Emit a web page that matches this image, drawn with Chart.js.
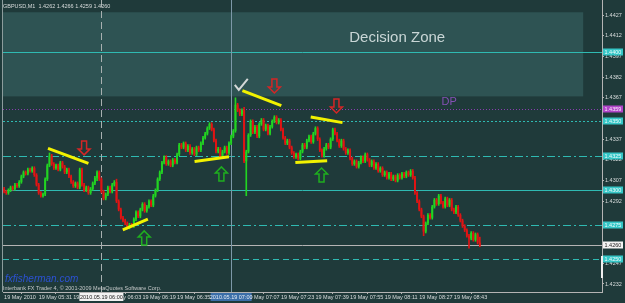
<!DOCTYPE html>
<html>
<head>
<meta charset="utf-8">
<script src="https://cdn.jsdelivr.net/npm/chart.js@4.4.1/dist/chart.umd.min.js"></script>
<style>
  html, body { margin: 0; padding: 0; background: #1f3a3a; }
  #wrap { width: 625px; height: 303px; position: relative; }
</style>
</head>
<body>
<div id="wrap"><canvas id="chartFx"></canvas></div>
<script>
// GBPUSD M1, 19 May 2010, one bar per minute from 05:15
const opens = [
  1.4301,1.4299,1.4298,1.4300,1.4302,1.4301,1.4304,1.4303,1.4306,1.4310,
  1.4313,1.4312,1.4315,1.4314,1.4316,1.4311,1.4304,1.4298,1.4296,1.4297,
  1.4308,1.4318,1.4325,1.4319,1.4316,1.4318,1.4315,1.4320,1.4317,1.4313,
  1.4315,1.4310,1.4306,1.4303,1.4305,1.4302,1.4315,1.4304,1.4300,1.4302,
  1.4298,1.4301,1.4305,1.4309,1.4313,1.4308,1.4299,1.4294,1.4297,1.4302,
  1.4299,1.4304,1.4306,1.4292,1.4286,1.4280,1.4278,1.4276,1.4273,1.4275,
  1.4274,1.4279,1.4284,1.4281,1.4286,1.4290,1.4285,1.4288,1.4292,1.4289,
  1.4296,1.4300,1.4308,1.4313,1.4320,1.4324,1.4319,1.4321,1.4318,1.4322,
  1.4320,1.4326,1.4333,1.4331,1.4334,1.4329,1.4332,1.4327,1.4330,1.4326,
  1.4331,1.4329,1.4334,1.4338,1.4341,1.4345,1.4348,1.4344,1.4336,1.4328,
  1.4330,1.4324,1.4328,1.4331,1.4327,1.4334,1.4339,1.4343,1.4362,1.4358,
  1.4355,1.4358,1.4321,1.4328,1.4340,1.4350,1.4342,1.4346,1.4339,1.4348,
  1.4351,1.4344,1.4347,1.4341,1.4346,1.4350,1.4353,1.4349,1.4351,1.4344,
  1.4338,1.4334,1.4336,1.4331,1.4327,1.4324,1.4326,1.4323,1.4328,1.4333,
  1.4331,1.4336,1.4339,1.4335,1.4341,1.4345,1.4337,1.4329,1.4325,1.4330,
  1.4333,1.4331,1.4337,1.4344,1.4341,1.4336,1.4332,1.4336,1.4330,1.4327,
  1.4329,1.4323,1.4319,1.4321,1.4317,1.4320,1.4324,1.4321,1.4326,1.4322,
  1.4318,1.4321,1.4316,1.4319,1.4314,1.4316,1.4311,1.4313,1.4309,1.4312,
  1.4308,1.4310,1.4307,1.4311,1.4309,1.4312,1.4310,1.4313,1.4311,1.4314,
  1.4309,1.4298,1.4292,1.4286,1.4281,1.4270,1.4276,1.4282,1.4280,1.4288,
  1.4293,1.4290,1.4296,1.4291,1.4288,1.4294,1.4289,1.4293,1.4286,1.4284,
  1.4288,1.4282,1.4278,1.4274,1.4271,1.4267,1.4265,1.4269,1.4264,1.4268,
  1.4262
];
const highs = [
  1.4302,1.4300,1.4301,1.4303,1.4303,1.4305,1.4305,1.4307,1.4311,1.4314,
  1.4314,1.4316,1.4316,1.4317,1.4317,1.4312,1.4305,1.4299,1.4298,1.4309,
  1.4319,1.4327,1.4326,1.4320,1.4319,1.4319,1.4321,1.4321,1.4318,1.4316,
  1.4316,1.4311,1.4307,1.4306,1.4306,1.4316,1.4316,1.4305,1.4303,1.4303,
  1.4302,1.4306,1.4310,1.4314,1.4314,1.4309,1.4300,1.4298,1.4303,1.4303,
  1.4305,1.4307,1.4308,1.4293,1.4287,1.4281,1.4279,1.4277,1.4276,1.4276,
  1.4280,1.4285,1.4285,1.4287,1.4291,1.4291,1.4289,1.4293,1.4293,1.4297,
  1.4301,1.4309,1.4314,1.4321,1.4325,1.4325,1.4322,1.4322,1.4323,1.4323,
  1.4327,1.4334,1.4334,1.4335,1.4335,1.4333,1.4333,1.4331,1.4331,1.4332,
  1.4332,1.4335,1.4339,1.4342,1.4346,1.4349,1.4349,1.4345,1.4337,1.4331,
  1.4331,1.4329,1.4332,1.4332,1.4335,1.4340,1.4344,1.4367,1.4363,1.4359,
  1.4359,1.4360,1.4329,1.4341,1.4351,1.4351,1.4347,1.4347,1.4349,1.4352,
  1.4352,1.4348,1.4348,1.4347,1.4351,1.4354,1.4354,1.4352,1.4352,1.4345,
  1.4339,1.4337,1.4337,1.4332,1.4328,1.4327,1.4327,1.4329,1.4334,1.4334,
  1.4337,1.4340,1.4340,1.4342,1.4346,1.4346,1.4338,1.4330,1.4331,1.4334,
  1.4334,1.4338,1.4345,1.4345,1.4342,1.4337,1.4337,1.4337,1.4331,1.4330,
  1.4330,1.4324,1.4322,1.4322,1.4321,1.4325,1.4325,1.4327,1.4327,1.4323,
  1.4322,1.4322,1.4320,1.4320,1.4317,1.4317,1.4314,1.4314,1.4313,1.4313,
  1.4311,1.4311,1.4312,1.4312,1.4313,1.4313,1.4314,1.4314,1.4315,1.4315,
  1.4310,1.4299,1.4293,1.4287,1.4282,1.4277,1.4283,1.4283,1.4289,1.4294,
  1.4294,1.4297,1.4297,1.4292,1.4295,1.4295,1.4294,1.4294,1.4287,1.4289,
  1.4289,1.4283,1.4279,1.4275,1.4272,1.4268,1.4270,1.4270,1.4269,1.4269,
  1.4266
];
const lows = [
  1.4298,1.4297,1.4297,1.4299,1.4300,1.4300,1.4302,1.4302,1.4305,1.4309,
  1.4311,1.4311,1.4313,1.4313,1.4310,1.4303,1.4297,1.4295,1.4295,1.4296,
  1.4307,1.4317,1.4318,1.4315,1.4315,1.4314,1.4314,1.4316,1.4312,1.4312,
  1.4309,1.4305,1.4302,1.4302,1.4301,1.4301,1.4303,1.4299,1.4299,1.4297,
  1.4297,1.4300,1.4304,1.4307,1.4307,1.4298,1.4293,1.4293,1.4296,1.4298,
  1.4298,1.4303,1.4291,1.4285,1.4279,1.4277,1.4275,1.4272,1.4272,1.4273,
  1.4273,1.4278,1.4280,1.4280,1.4285,1.4284,1.4284,1.4287,1.4288,1.4288,
  1.4295,1.4299,1.4307,1.4312,1.4319,1.4318,1.4318,1.4317,1.4317,1.4319,
  1.4319,1.4325,1.4330,1.4330,1.4328,1.4328,1.4326,1.4326,1.4325,1.4325,
  1.4328,1.4328,1.4333,1.4337,1.4340,1.4344,1.4343,1.4335,1.4327,1.4327,
  1.4323,1.4323,1.4327,1.4326,1.4326,1.4333,1.4338,1.4342,1.4357,1.4354,
  1.4354,1.4320,1.4296,1.4327,1.4339,1.4341,1.4341,1.4338,1.4338,1.4347,
  1.4343,1.4343,1.4340,1.4340,1.4345,1.4349,1.4348,1.4348,1.4343,1.4337,
  1.4333,1.4333,1.4330,1.4326,1.4323,1.4323,1.4322,1.4322,1.4327,1.4330,
  1.4330,1.4335,1.4334,1.4334,1.4340,1.4336,1.4328,1.4324,1.4324,1.4329,
  1.4330,1.4330,1.4336,1.4340,1.4335,1.4331,1.4331,1.4329,1.4326,1.4326,
  1.4322,1.4318,1.4318,1.4316,1.4316,1.4319,1.4320,1.4320,1.4321,1.4317,
  1.4317,1.4315,1.4315,1.4313,1.4313,1.4310,1.4310,1.4308,1.4308,1.4307,
  1.4307,1.4306,1.4306,1.4308,1.4308,1.4309,1.4309,1.4310,1.4310,1.4308,
  1.4297,1.4291,1.4285,1.4280,1.4267,1.4269,1.4275,1.4279,1.4279,1.4287,
  1.4289,1.4289,1.4290,1.4287,1.4287,1.4288,1.4288,1.4285,1.4283,1.4283,
  1.4281,1.4277,1.4273,1.4270,1.4266,1.4258,1.4264,1.4263,1.4263,1.4261,
  1.4259
];
const closes = [
  1.4299,1.4298,1.4300,1.4302,1.4301,1.4304,1.4303,1.4306,1.4310,1.4313,
  1.4312,1.4315,1.4314,1.4316,1.4311,1.4304,1.4298,1.4296,1.4297,1.4308,
  1.4318,1.4325,1.4319,1.4316,1.4318,1.4315,1.4320,1.4317,1.4313,1.4315,
  1.4310,1.4306,1.4303,1.4305,1.4302,1.4315,1.4304,1.4300,1.4302,1.4298,
  1.4301,1.4305,1.4309,1.4313,1.4308,1.4299,1.4294,1.4297,1.4302,1.4299,
  1.4304,1.4306,1.4292,1.4286,1.4280,1.4278,1.4276,1.4273,1.4275,1.4274,
  1.4279,1.4284,1.4281,1.4286,1.4290,1.4285,1.4288,1.4292,1.4289,1.4296,
  1.4300,1.4308,1.4313,1.4320,1.4324,1.4319,1.4321,1.4318,1.4322,1.4320,
  1.4326,1.4333,1.4331,1.4334,1.4329,1.4332,1.4327,1.4330,1.4326,1.4331,
  1.4329,1.4334,1.4338,1.4341,1.4345,1.4348,1.4344,1.4336,1.4328,1.4330,
  1.4324,1.4328,1.4331,1.4327,1.4334,1.4339,1.4343,1.4362,1.4358,1.4355,
  1.4358,1.4321,1.4328,1.4340,1.4350,1.4342,1.4346,1.4339,1.4348,1.4351,
  1.4344,1.4347,1.4341,1.4346,1.4350,1.4353,1.4349,1.4351,1.4344,1.4338,
  1.4334,1.4336,1.4331,1.4327,1.4324,1.4326,1.4323,1.4328,1.4333,1.4331,
  1.4336,1.4339,1.4335,1.4341,1.4345,1.4337,1.4329,1.4325,1.4330,1.4333,
  1.4331,1.4337,1.4344,1.4341,1.4336,1.4332,1.4336,1.4330,1.4327,1.4329,
  1.4323,1.4319,1.4321,1.4317,1.4320,1.4324,1.4321,1.4326,1.4322,1.4318,
  1.4321,1.4316,1.4319,1.4314,1.4316,1.4311,1.4313,1.4309,1.4312,1.4308,
  1.4310,1.4307,1.4311,1.4309,1.4312,1.4310,1.4313,1.4311,1.4314,1.4309,
  1.4298,1.4292,1.4286,1.4281,1.4270,1.4276,1.4282,1.4280,1.4288,1.4293,
  1.4290,1.4296,1.4291,1.4288,1.4294,1.4289,1.4293,1.4286,1.4284,1.4288,
  1.4282,1.4278,1.4274,1.4271,1.4267,1.4265,1.4269,1.4264,1.4268,1.4262,
  1.4260
];

const slotCount = 277;            // bar slots visible incl. empty shift area
const priceMin = 1.42262, priceMax = 1.44379;
const priceTicks = [1.4232,1.4247,1.4292,1.4307,1.4322,1.4337,1.4367,1.4382,1.4397,1.4412,1.4427];

const timeTickIdx = [0,16,32,48,64,80,96,112,128,144,160,176,192,208];
const timeTickText = ['19 May 2010','19 May 05:31','19 May 05:47','19 May 06:03','19 May 06:19',
  '19 May 06:35','19 May 06:51','19 May 07:07','19 May 07:23','19 May 07:39','19 May 07:55',
  '19 May 08:11','19 May 08:27','19 May 08:43'];
const sepIdx = [45, 105];
const sepText = ['2010.05.19 06:00', '2010.05.19 07:00'];

const levelPrices = [1.4400, 1.4359, 1.4350, 1.4325, 1.4300, 1.4275, 1.4260, 1.4250];
const levelStyles = [
  { color: '#2fbab2', dash: [],           box: '#35c6c6', text: '#effefe' },
  { color: '#8a3cb0', dash: [1, 2],       box: '#b044c8', text: '#fbeeff' },
  { color: '#2fbab2', dash: [2, 2],       box: '#35c6c6', text: '#effefe' },
  { color: '#2fbab2', dash: [8, 3, 2, 3], box: '#35c6c6', text: '#effefe' },
  { color: '#2fbab2', dash: [],           box: '#35c6c6', text: '#effefe' },
  { color: '#2fbab2', dash: [8, 3, 2, 3], box: '#35c6c6', text: '#effefe' },
  { color: '#b4b4b4', dash: [],           box: '#f4f4f4', text: '#202020' },
  { color: '#2fbab2', dash: [6, 4],       box: '#35c6c6', text: '#effefe' }
];

// decision zone: slot from, slot to, low price, high price
const zone = [-0.5, 267.8, 1.4368, 1.4429];
const zoneLabel = [181.8, 1.44103, 'Decision Zone'];
const dpLabel = [205.8, 1.4364, 'DP'];

// trend lines: slot, price -> slot, price
const trendLines = [
  [20.3, 1.43303, 39.0, 1.43194],
  [54.9, 1.42712, 66.5, 1.42790],
  [88.1, 1.43208, 104.0, 1.43242],
  [110.2, 1.43722, 128.2, 1.43613],
  [134.7, 1.43200, 149.4, 1.43213],
  [141.8, 1.43531, 156.5, 1.43490]
];
const sellArrows = [[37, 1.43256], [125, 1.43705], [153.7, 1.4356]];
const buyArrows = [[64.8, 1.42705], [100.5, 1.43169], [146.8, 1.43161]];
const checkMark = [109, 1.43763];

const upColor = '#22d422', downColor = '#e21414';
const smallFont = '5.5px "Liberation Sans"';
const candleColors = closes.map((c, i) => c >= opens[i] ? upColor : downColor);
const slots = Array.from({ length: slotCount }, (_, i) => i);

const fxDecor = {
  id: 'fxDecor',
  beforeDraw(chart) {
    const { ctx, chartArea: a, scales: { x, y } } = chart;
    ctx.save();
    ctx.fillStyle = '#1f3a3a';
    ctx.fillRect(0, 0, chart.width, chart.height);
    const zx1 = x.getPixelForValue(zone[0]), zx2 = x.getPixelForValue(zone[1]);
    const zy1 = y.getPixelForValue(zone[3]), zy2 = y.getPixelForValue(zone[2]);
    ctx.fillStyle = '#2e5353';
    ctx.fillRect(zx1, zy1, zx2 - zx1, zy2 - zy1);
    ctx.fillStyle = '#c9d6d6';
    ctx.font = '15px "Liberation Sans"';
    ctx.textAlign = 'center';
    ctx.textBaseline = 'middle';
    ctx.fillText(zoneLabel[2], x.getPixelForValue(zoneLabel[0]), y.getPixelForValue(zoneLabel[1]));
    ctx.restore();
  },
  beforeDatasetsDraw(chart) {
    const { ctx, chartArea: a, scales: { x, y } } = chart;
    ctx.save();
    ctx.lineWidth = 1;
    levelPrices.forEach((p, i) => {
      const py = Math.round(y.getPixelForValue(p)) + 0.5;
      ctx.strokeStyle = levelStyles[i].color;
      ctx.setLineDash(levelStyles[i].dash);
      ctx.beginPath(); ctx.moveTo(a.left, py); ctx.lineTo(a.right, py); ctx.stroke();
    });
    sepIdx.forEach((s, i) => {
      const px = Math.round(x.getPixelForValue(s)) + 0.5;
      ctx.strokeStyle = i === 0 ? '#a8b0b0' : '#7d98a8';
      ctx.setLineDash(i === 0 ? [7, 4] : []);
      ctx.beginPath(); ctx.moveTo(px, a.top); ctx.lineTo(px, a.bottom); ctx.stroke();
    });
    ctx.setLineDash([]);
    ctx.strokeStyle = '#8c9c9c';
    ctx.beginPath(); ctx.moveTo(a.left - 0.5, a.top); ctx.lineTo(a.left - 0.5, a.bottom); ctx.stroke();
    ctx.restore();
  },
  afterDatasetsDraw(chart) {
    const { ctx, chartArea: a, scales: { x, y } } = chart;
    ctx.save();
    // trend lines
    ctx.strokeStyle = '#f2f200';
    ctx.lineWidth = 3;
    ctx.lineCap = 'butt';
    trendLines.forEach(t => {
      ctx.beginPath();
      ctx.moveTo(x.getPixelForValue(t[0]), y.getPixelForValue(t[1]));
      ctx.lineTo(x.getPixelForValue(t[2]), y.getPixelForValue(t[3]));
      ctx.stroke();
    });
    // hollow arrows
    const arrow = (tx, ty, dir, color) => {
      const pts = [[-2.5, 14], [2.5, 14], [2.5, 6], [6, 6], [0, 0], [-6, 6], [-2.5, 6]];
      ctx.strokeStyle = color;
      ctx.lineWidth = 1.5;
      ctx.beginPath();
      pts.forEach((p, i) => {
        const px = tx + p[0], py = ty + dir * p[1];
        i ? ctx.lineTo(px, py) : ctx.moveTo(px, py);
      });
      ctx.closePath();
      ctx.stroke();
    };
    sellArrows.forEach(s => arrow(x.getPixelForValue(s[0]), y.getPixelForValue(s[1]), -1, '#d42626'));
    buyArrows.forEach(b => arrow(x.getPixelForValue(b[0]), y.getPixelForValue(b[1]), 1, '#1fae1f'));
    // check mark
    const cx = x.getPixelForValue(checkMark[0]), cy = y.getPixelForValue(checkMark[1]);
    ctx.strokeStyle = '#d4d8d8';
    ctx.lineWidth = 2;
    ctx.beginPath(); ctx.moveTo(cx - 5, cy); ctx.lineTo(cx - 1, cy + 5); ctx.lineTo(cx + 8, cy - 6); ctx.stroke();
    // DP label
    ctx.fillStyle = '#8550b5';
    ctx.font = '11px "Liberation Sans"';
    ctx.textAlign = 'center';
    ctx.textBaseline = 'middle';
    ctx.fillText(dpLabel[2], x.getPixelForValue(dpLabel[0]), y.getPixelForValue(dpLabel[1]));
    // header and watermark texts
    ctx.textAlign = 'left';
    ctx.textBaseline = 'alphabetic';
    ctx.fillStyle = '#d8dcdc';
    ctx.font = smallFont;
    ctx.fillText('GBPUSD,M1  1.4262 1.4266 1.4259 1.4260', a.left, a.top + 8);
    ctx.fillStyle = '#c4c8c8';
    ctx.fillText('Interbank FX Trader 4, \u00a9 2001-2009 MetaQuotes Software Corp.', a.left, a.bottom - 2);
    ctx.fillStyle = '#2c52d4';
    ctx.font = 'italic 10px "Liberation Sans"';
    ctx.fillText('fxfisherman.com', a.left + 2, a.bottom - 10);
    ctx.restore();
  },
  afterDraw(chart) {
    const { ctx, chartArea: a, scales: { x, y } } = chart;
    ctx.save();
    ctx.font = smallFont;
    ctx.textBaseline = 'middle';
    ctx.textAlign = 'left';
    levelPrices.forEach((p, i) => {
      const py = Math.round(y.getPixelForValue(p));
      ctx.fillStyle = levelStyles[i].box;
      ctx.fillRect(a.right + 1, py - 3.5, 20, 7);
      ctx.fillStyle = levelStyles[i].text;
      ctx.fillText(p.toFixed(4), a.right + 2.5, py + 0.5);
    });
    ctx.textAlign = 'center';
    sepIdx.forEach((s, i) => {
      const px = x.getPixelForValue(s);
      const w = i === 0 ? 44 : 41;
      ctx.fillStyle = i === 0 ? '#f2f2f2' : '#3b6ea8';
      ctx.fillRect(px - w / 2, a.bottom + 1, w, 8);
      ctx.fillStyle = i === 0 ? '#202020' : '#e6eef6';
      ctx.fillText(sepText[i], px, a.bottom + 5.5);
    });
    ctx.fillStyle = '#f0f0f0';
    ctx.fillRect(a.right - 1, a.bottom - 36, 2, 22);
    ctx.restore();
  }
};

const ctxFx = document.getElementById('chartFx').getContext('2d');
const chartFx = new Chart(ctxFx, {
  type: 'bar',
  data: {
    labels: slots,
    datasets: [{
      data: lows.map((l, i) => [l, highs[i]]),
      backgroundColor: candleColors,
      barThickness: 1,
      grouped: false,
      borderWidth: 0
    }, {
      data: opens.map((o, i) => [o, closes[i]]),
      backgroundColor: candleColors,
      barPercentage: 0.9,
      categoryPercentage: 1,
      grouped: false,
      minBarLength: 1,
      borderWidth: 0
    }]
  },
  options: {
    responsive: true,
    maintainAspectRatio: false,
    animation: false,
    layout: { padding: { left: 3, top: 0, right: 0, bottom: 0 } },
    plugins: {
      legend: { display: false },
      tooltip: { enabled: false }
    },
    scales: {
      x: {
        offset: true,
        grid: { drawOnChartArea: false, drawTicks: true, tickLength: 2, color: '#b4b4b4' },
        border: { color: '#b4b4b4' },
        afterBuildTicks: s => { s.ticks = timeTickIdx.map(v => ({ value: v })); },
        afterFit: s => { s.height = 11; s.paddingLeft = 0; s.paddingRight = 0; },
        ticks: {
          autoSkip: false, maxRotation: 0, minRotation: 0, align: 'start', padding: 0,
          color: '#d8dcdc', font: { family: 'Liberation Sans', size: 5.5 },
          callback: (v, i) => timeTickText[i]
        }
      },
      y: {
        position: 'right',
        min: priceMin,
        max: priceMax,
        grid: { drawOnChartArea: false, tickLength: 2, color: '#b4b4b4' },
        border: { color: '#b4b4b4' },
        afterBuildTicks: s => { s.ticks = priceTicks.map(v => ({ value: v })); },
        afterFit: s => { s.width = 23; s.paddingTop = 0; s.paddingBottom = 0; },
        ticks: {
          padding: 1, color: '#d8dcdc', font: { family: 'Liberation Sans', size: 5.5 },
          callback: v => v.toFixed(4)
        }
      }
    }
  },
  plugins: [fxDecor]
});
</script>
</body>
</html>
